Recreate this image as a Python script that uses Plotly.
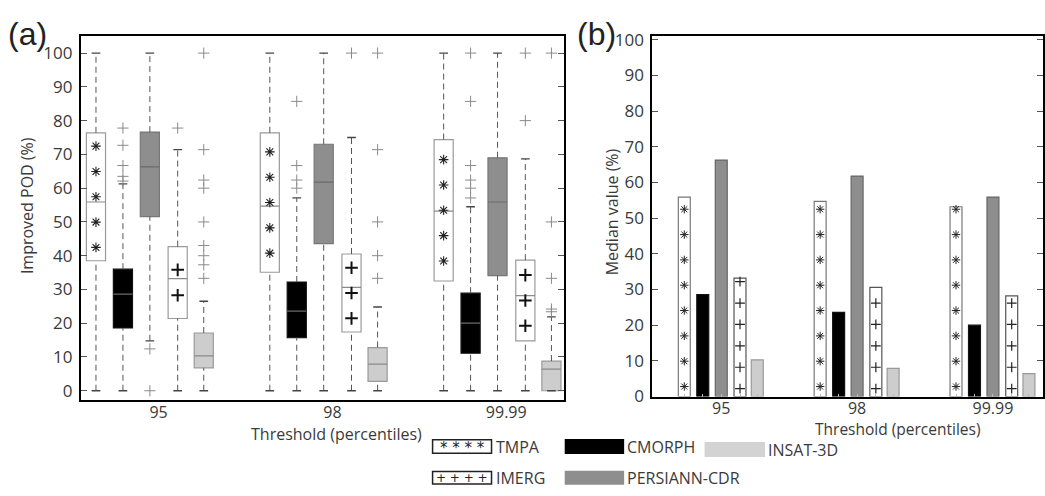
import numpy as np
import plotly.graph_objects as go

# ---------------- data ----------------
groups = ["95", "98", "99.99"]
series = ["TMPA", "CMORPH", "PERSIANN-CDR", "IMERG", "INSAT-3D"]

# box statistics (panel a)
tmpa_q1 = [38.5, 35.1, 32.5]
tmpa_med = [55.9, 54.7, 53.2]
tmpa_q3 = [76.4, 76.4, 74.4]
tmpa_wlo = [0, 0, 0]
tmpa_whi = [100, 100, 100]
tmpa_out = [[], [], []]

cmorph_q1 = [18.6, 15.7, 11.1]
cmorph_med = [28.6, 23.6, 20.0]
cmorph_q3 = [36.0, 32.2, 28.9]
cmorph_wlo = [0, 0, 0]
cmorph_whi = [61.3, 57.1, 54.5]
cmorph_out = [[62.1, 63.5, 66.7, 72.7, 77.8],
              [60.0, 62.4, 66.7, 85.7],
              [57.1, 60.0, 62.4, 66.7, 85.7, 100]]

persiann_q1 = [51.6, 43.6, 34.1]
persiann_med = [66.3, 61.8, 55.9]
persiann_q3 = [76.6, 73.0, 69.0]
persiann_wlo = [14.8, 0, 0]
persiann_whi = [100, 100, 100]
persiann_out = [[0, 12.4], [], []]

imerg_q1 = [21.4, 17.4, 14.8]
imerg_med = [33.2, 30.6, 28.2]
imerg_q3 = [42.7, 40.5, 38.7]
imerg_wlo = [0, 0, 0]
imerg_whi = [71.4, 75.0, 68.7]
imerg_out = [[77.8], [100], [80, 100]]

insat_q1 = [6.8, 2.8, 0.0]
insat_med = [10.3, 7.9, 6.4]
insat_q3 = [17.1, 12.8, 8.8]
insat_wlo = [0, 0, 0]
insat_whi = [26.5, 24.8, 21.9]
insat_out = [[33.3, 37.3, 40, 43.0, 50, 60, 62.4, 71.4, 100],
             [33.3, 40, 50, 71.4, 100],
             [23.4, 24.2, 33.3, 50, 100]]

# ---------------- styling ----------------
W, H = 1045, 496
FONT = "Open Sans"
TXT = "#3a3a3a"

stats = {
    "TMPA": (tmpa_q1, tmpa_med, tmpa_q3, tmpa_wlo, tmpa_whi, tmpa_out),
    "CMORPH": (cmorph_q1, cmorph_med, cmorph_q3, cmorph_wlo, cmorph_whi, cmorph_out),
    "PERSIANN-CDR": (persiann_q1, persiann_med, persiann_q3, persiann_wlo, persiann_whi, persiann_out),
    "IMERG": (imerg_q1, imerg_med, imerg_q3, imerg_wlo, imerg_whi, imerg_out),
    "INSAT-3D": (insat_q1, insat_med, insat_q3, insat_wlo, insat_whi, insat_out),
}
fill = {"TMPA": "white", "CMORPH": "black", "PERSIANN-CDR": "#8e8e8e",
        "IMERG": "white", "INSAT-3D": "#cdcdcd"}
edge_a = {"TMPA": "#9a9a9a", "CMORPH": "#111111", "PERSIANN-CDR": "#777777",
          "IMERG": "#9a9a9a", "INSAT-3D": "#9a9a9a"}
medc = {"TMPA": "#8a8a8a", "CMORPH": "#6a6a6a", "PERSIANN-CDR": "#6a6a6a",
        "IMERG": "#8a8a8a", "INSAT-3D": "#8a8a8a"}
edge_b = {"TMPA": "#777777", "CMORPH": "#111111", "PERSIANN-CDR": "#666666",
          "IMERG": "#555555", "INSAT-3D": "#999999"}

gpos = np.array([1.0, 2.0, 3.0])
off_a = [-0.31, -0.155, 0.0, 0.16, 0.31]
off_b = [-0.272, -0.136, 0.0, 0.138, 0.265]
box_w = 0.11
cap_w = 0.05
bar_w = 0.088

fig = go.Figure()

# ---------------- panel (a): box plots ----------------
for i, s in enumerate(series):
    q1, med, q3, wlo, whi, out = stats[s]
    xs = gpos + off_a[i]
    # whiskers (dashed)
    wx, wy = [], []
    for x, a, b, c, d in zip(xs, wlo, q1, q3, whi):
        wx += [x, x, None, x, x, None]
        wy += [a, b, None, c, d, None]
    fig.add_trace(go.Scatter(x=wx, y=wy, mode="lines", xaxis="x", yaxis="y",
                             line=dict(color="#555555", width=1, dash="6px,4px"),
                             hoverinfo="skip", showlegend=False))
    # caps
    cx, cy = [], []
    for x, a, d in zip(xs, wlo, whi):
        cx += [x - cap_w / 2, x + cap_w / 2, None, x - cap_w / 2, x + cap_w / 2, None]
        cy += [a, a, None, d, d, None]
    fig.add_trace(go.Scatter(x=cx, y=cy, mode="lines", xaxis="x", yaxis="y",
                             line=dict(color="#444444", width=1.3),
                             hoverinfo="skip", showlegend=False))
    # boxes
    fig.add_trace(go.Bar(x=xs, base=q1, y=np.array(q3) - np.array(q1), width=box_w,
                         xaxis="x", yaxis="y",
                         marker=dict(color=fill[s], line=dict(color=edge_a[s], width=1.2)),
                         showlegend=False, name=s))
    # medians
    mx, my = [], []
    for x, m in zip(xs, med):
        mx += [x - box_w / 2, x + box_w / 2, None]
        my += [m, m, None]
    fig.add_trace(go.Scatter(x=mx, y=my, mode="lines", xaxis="x", yaxis="y",
                             line=dict(color=medc[s], width=1.2),
                             hoverinfo="skip", showlegend=False))
    # hatch glyphs inside patterned boxes
    if s in ("TMPA", "IMERG"):
        px_, py_ = [], []
        step = 7.5
        for x, a, c in zip(xs, q1, q3):
            n = int((c - a) // step)
            mid = (a + c) / 2
            for k in range(n):
                px_.append(x)
                py_.append(mid + (k - (n - 1) / 2) * step)
        if s == "TMPA":
            mk = dict(symbol="asterisk-open", size=8, color="#222222",
                      line=dict(color="#222222", width=1.1))
        else:
            mk = dict(symbol="cross-thin-open", size=9, color="#111111",
                      line=dict(color="#111111", width=2))
        fig.add_trace(go.Scatter(x=px_, y=py_, mode="markers", xaxis="x", yaxis="y",
                                 marker=mk, hoverinfo="skip", showlegend=False))
    # outliers
    ox, oy = [], []
    for x, o in zip(xs, out):
        ox += [x] * len(o)
        oy += list(o)
    if ox:
        fig.add_trace(go.Scatter(x=ox, y=oy, mode="markers", xaxis="x", yaxis="y",
                                 marker=dict(symbol="cross-thin-open", size=8, color="#8a8a8a",
                                             line=dict(color="#8a8a8a", width=1)),
                                 hoverinfo="skip", showlegend=False))

# ---------------- panel (b): median bars ----------------
for i, s in enumerate(series):
    med = stats[s][1]
    xs = gpos + off_b[i]
    fig.add_trace(go.Bar(x=xs, y=med, width=bar_w, xaxis="x2", yaxis="y2",
                         marker=dict(color=fill[s], line=dict(color=edge_b[s], width=1.2)),
                         showlegend=False, name=s))
    if s in ("TMPA", "IMERG"):
        px_, py_ = [], []
        if s == "TMPA":
            start, step = 2.8, 7.1
        else:
            start, step = 2.2, 6.0
        for x, v in zip(xs, med):
            yv = start
            while yv < v - 0.5:
                px_.append(x)
                py_.append(yv)
                yv += step
        if s == "TMPA":
            mk = dict(symbol="asterisk-open", size=7, color="#222222",
                      line=dict(color="#222222", width=1))
        else:
            mk = dict(symbol="cross-thin-open", size=7, color="#222222",
                      line=dict(color="#222222", width=1.2))
        fig.add_trace(go.Scatter(x=px_, y=py_, mode="markers", xaxis="x2", yaxis="y2",
                                 marker=mk, hoverinfo="skip", showlegend=False))


def pxx(x):
    return x / W


def pxy(y):
    return 1 - y / H


tickfont = dict(family=FONT, size=17, color=TXT)
xtickfont = dict(family=FONT, size=16, color=TXT)
yticks = list(range(0, 101, 10))

fig.update_layout(
    width=W, height=H,
    margin=dict(l=0, r=0, t=0, b=0),
    paper_bgcolor="white", plot_bgcolor="white",
    barmode="overlay",
    showlegend=False,
    font=dict(family=FONT, color=TXT),
    xaxis=dict(domain=[pxx(81), pxx(565)], range=[0.6034, 3.385], anchor="y",
               tickmode="array", tickvals=list(gpos + 0.05), ticktext=groups,
               ticks="", showline=True, mirror=True, linecolor="black", linewidth=2,
               showgrid=False, zeroline=False, tickfont=xtickfont, ticklabelstandoff=-4),
    yaxis=dict(domain=[pxy(408), pxy(29)], range=[-2.85, 105.1], anchor="x",
               tickmode="array", tickvals=yticks, ticks="inside", ticklen=6,
               tickcolor="#555555", showline=True, mirror="ticks", linecolor="black",
               linewidth=2, showgrid=False, zeroline=False, tickfont=tickfont,
               ticklabelstandoff=3),
    xaxis2=dict(domain=[pxx(653), 0.999], range=[0.493, 3.368], anchor="y2",
                tickmode="array", tickvals=list(gpos), ticktext=groups,
                ticks="", showline=True, mirror=True, linecolor="black", linewidth=2,
                showgrid=False, zeroline=False, tickfont=xtickfont, ticklabelstandoff=-4,
                minor=dict(tickmode="array",
                           tickvals=list(np.concatenate([gpos + o for o in off_b])),
                           ticks="inside", ticklen=3, tickcolor="#bbbbbb")),
    yaxis2=dict(domain=[pxy(404), pxy(29)], range=[0, 101.1], anchor="x2",
                tickmode="array", tickvals=yticks, ticks="inside", ticklen=6,
                tickcolor="#555555", showline=True, mirror="ticks", linecolor="black",
                linewidth=2, showgrid=False, zeroline=False, tickfont=tickfont,
                ticklabelstandoff=3),
)

ann = []
ann.append(dict(text="(a)", x=pxx(6), y=pxy(27), xref="paper", yref="paper",
                xanchor="left", yanchor="middle", showarrow=False,
                font=dict(family="Liberation Sans", size=32, color="#222222")))
ann.append(dict(text="(b)", x=pxx(576), y=pxy(27), xref="paper", yref="paper",
                xanchor="left", yanchor="middle", showarrow=False,
                font=dict(family="Liberation Sans", size=32, color="#222222")))
ann.append(dict(text="Improved POD (%)", x=pxx(27), y=pxy(205), xref="paper", yref="paper",
                textangle=-90, showarrow=False, xanchor="center", yanchor="middle",
                font=dict(family=FONT, size=16, color=TXT)))
ann.append(dict(text="Median value (%)", x=pxx(612), y=pxy(212), xref="paper", yref="paper",
                textangle=-90, showarrow=False, xanchor="center", yanchor="middle",
                font=dict(family=FONT, size=16, color=TXT)))
ann.append(dict(text="Threshold (percentiles)", x=pxx(337), y=pxy(443), xref="paper",
                yref="paper", showarrow=False, xanchor="center", yanchor="middle",
                font=dict(family=FONT, size=16, color=TXT)))
ann.append(dict(text="Threshold (percentiles)", x=pxx(898), y=pxy(438), xref="paper",
                yref="paper", showarrow=False, xanchor="center", yanchor="middle",
                font=dict(family=FONT, size=15.5, color=TXT)))

# ---------------- custom legend ----------------
shapes = []
legend_items = [
    ("TMPA", 433, 492, 449, 463, "white", "#222222", "* * * *"),
    ("CMORPH", 566, 624, 449, 463, "black", "black", ""),
    ("INSAT-3D", 706, 765, 452, 466, "#d3d3d3", "#d3d3d3", ""),
    ("IMERG", 433, 492, 482, 495, "white", "#222222", "+ + + +"),
    ("PERSIANN-CDR", 566, 624, 482, 495, "#8e8e8e", "#8e8e8e", ""),
]
for name, x0, x1, y0, y1, fc, lc, glyph in legend_items:
    shapes.append(dict(type="rect", xref="paper", yref="paper",
                       x0=pxx(x0), x1=pxx(x1), y0=pxy(y1), y1=pxy(y0),
                       fillcolor=fc, line=dict(color=lc, width=1.5)))
    if glyph:
        ann.append(dict(text=glyph, x=pxx((x0 + x1) / 2), y=pxy((y0 + y1) / 2 + (2 if glyph[0] == "*" else 0)),
                        xref="paper", yref="paper", showarrow=False,
                        xanchor="center", yanchor="middle",
                        font=dict(family="DejaVu Sans", size=15 if glyph[0] == "*" else 12,
                                  color="#222222")))
    ann.append(dict(text=name, x=pxx(x1 + 2), y=pxy((y0 + y1) / 2 + 0.5), xref="paper",
                    yref="paper", showarrow=False, xanchor="left", yanchor="middle",
                    font=dict(family=FONT, size=16, color=TXT)))

fig.update_layout(annotations=ann, shapes=shapes)

fig.write_html("out.html")
